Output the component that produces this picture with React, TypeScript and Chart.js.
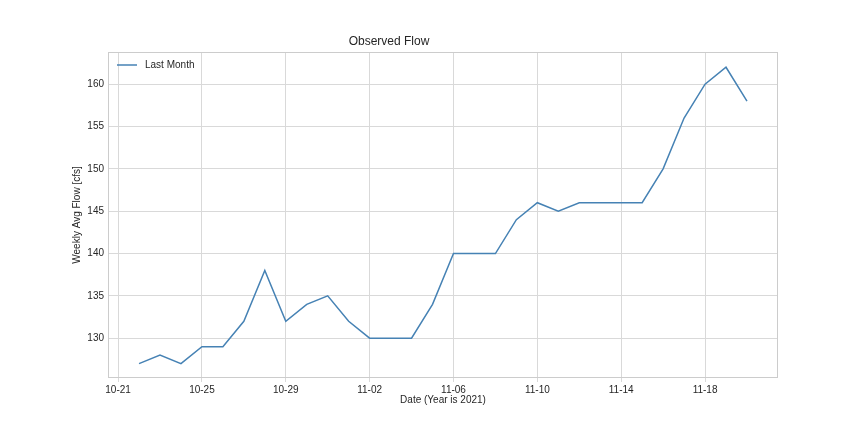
import { useEffect, useRef } from 'react';
import Chart from 'chart.js/auto';

// day index 0 = 2021-10-21
const days = [1, 2, 3, 4, 5, 6, 7, 8, 9, 10, 11, 12, 13, 14, 15, 16, 17, 18, 19, 20, 21, 22, 23, 24, 25, 26, 27, 28, 29, 30];
const flow = [127, 128, 127, 129, 129, 132, 138, 132, 134, 135, 132, 130, 130, 130, 134, 140, 140, 140, 144, 146, 145, 146, 146, 146, 146, 150, 156, 160, 162, 158];
const xTicks = [0, 4, 8, 12, 16, 20, 24, 28];
const yTicks = [130, 135, 140, 145, 150, 155, 160];

const dayLabel = (d: number) => {
  const dt = new Date(2021, 9, 21 + d);
  const mm = String(dt.getMonth() + 1).padStart(2, '0');
  const dd = String(dt.getDate()).padStart(2, '0');
  return `${mm}-${dd}`;
};

const FONT = 'Liberation Sans, Arial, sans-serif';
const LINE = '#4682b4';

const boxAndLegend = {
  id: 'boxAndLegend',
  afterDraw(chart: any) {
    const { ctx, chartArea: a } = chart;
    ctx.save();
    ctx.strokeStyle = '#cccccc';
    ctx.lineWidth = 1;
    ctx.strokeRect(a.left + 0.5, a.top + 0.5, a.right - a.left - 1, a.bottom - a.top - 1);
    ctx.strokeStyle = LINE;
    ctx.lineWidth = 1.5;
    ctx.beginPath();
    ctx.moveTo(a.left + 9, a.top + 13);
    ctx.lineTo(a.left + 29, a.top + 13);
    ctx.stroke();
    ctx.fillStyle = '#262626';
    ctx.font = `10px ${FONT}`;
    ctx.textBaseline = 'middle';
    ctx.fillText('Last Month', a.left + 37, a.top + 13);
    // axis titles
    ctx.textAlign = 'center';
    ctx.fillText('Date (Year is 2021)', (a.left + a.right) / 2, a.bottom + 22);
    ctx.translate(77, (a.top + a.bottom) / 2);
    ctx.rotate(-Math.PI / 2);
    ctx.fillText('Weekly Avg Flow [cfs]', 0, 0);
    ctx.restore();
  },
};

export default function App() {
  const chartRef = useRef<HTMLCanvasElement>(null);
  const chartInstance = useRef<Chart | null>(null);

  useEffect(() => {
    if (!chartRef.current) return;
    if (chartInstance.current) chartInstance.current.destroy();
    const ctx = chartRef.current.getContext('2d');
    if (!ctx) return;

    chartInstance.current = new Chart(ctx, {
      type: 'line',
      data: {
        datasets: [{
          label: 'Last Month',
          data: days.map((d, i) => ({ x: d, y: flow[i] })),
          borderColor: LINE,
          borderWidth: 1.5,
          pointRadius: 0,
          tension: 0,
          fill: false,
        }],
      },
      plugins: [boxAndLegend],
      options: {
        responsive: false,
        animation: false,
        layout: { padding: { top: 30.6, right: 86, left: 0, bottom: 0 } },
        plugins: {
          legend: { display: false },
          tooltip: { enabled: false },
          title: {
            display: true,
            text: 'Observed Flow',
            color: '#262626',
            font: { family: FONT, size: 12, weight: 'normal' },
            padding: { top: 4, bottom: 3 },
          },
        },
        scales: {
          x: {
            type: 'linear',
            min: -0.48,
            max: 31.48,
            afterBuildTicks: (s: any) => { s.ticks = xTicks.map((v) => ({ value: v })); },
            afterFit: (s: any) => { s.height = 54; },
            ticks: {
              callback: (v: any) => dayLabel(Number(v)),
              color: '#262626',
              font: { family: FONT, size: 10 },
              maxRotation: 0,
              padding: 2,
            },
            grid: { color: '#d9d9d9', drawTicks: true, tickLength: 4, tickColor: '#d9d9d9' },
            border: { display: false },
          },
          y: {
            min: 125.3,
            max: 163.8,
            afterBuildTicks: (s: any) => { s.ticks = yTicks.map((v) => ({ value: v })); },
            afterFit: (s: any) => { s.width = 108; },
            ticks: { color: '#262626', font: { family: FONT, size: 10 }, padding: 4 },
            grid: { color: '#d9d9d9', drawTicks: false },
            border: { display: false },
          },
        },
      },
    });

    return () => {
      if (chartInstance.current) {
        chartInstance.current.destroy();
        chartInstance.current = null;
      }
    };
  }, []);

  return (
    <div style={{ position: 'fixed', left: 0, top: 0, width: 864, height: 432, background: '#fff' }}>
      <canvas ref={chartRef} width={864} height={432} style={{ width: 864, height: 432 }} />
    </div>
  );
}
